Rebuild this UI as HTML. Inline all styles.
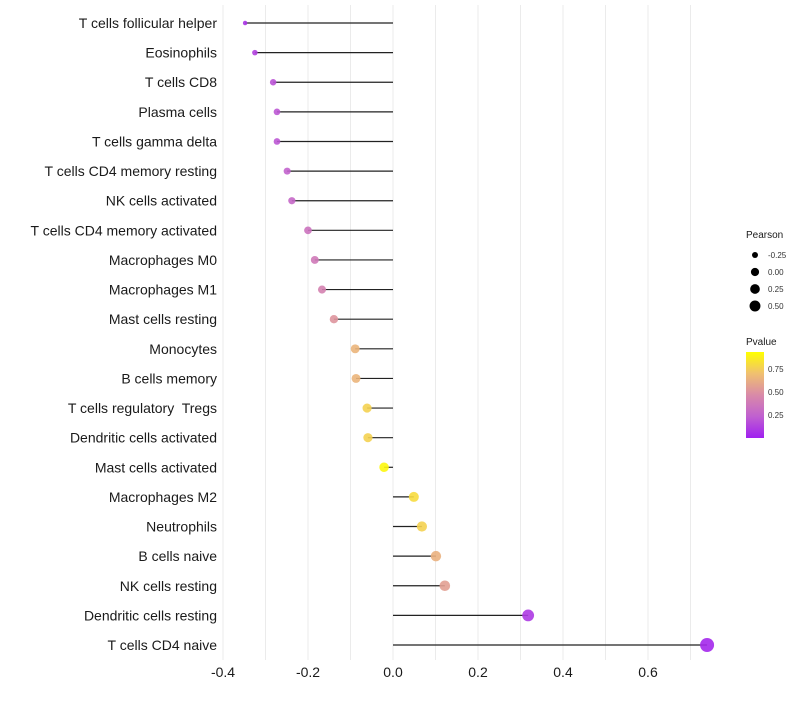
<!DOCTYPE html>
<html><head><meta charset="utf-8"><style>
body{margin:0;background:#fff;font-family:"Liberation Sans",sans-serif}
svg text{font-family:"Liberation Sans",sans-serif;white-space:pre}
</style></head><body>
<svg id="chart" width="800" height="700"></svg>
<script>
const categories=["T cells follicular helper","Eosinophils","T cells CD8","Plasma cells","T cells gamma delta","T cells CD4 memory resting","NK cells activated","T cells CD4 memory activated","Macrophages M0","Macrophages M1","Mast cells resting","Monocytes","B cells memory","T cells regulatory  Tregs","Dendritic cells activated","Mast cells activated","Macrophages M2","Neutrophils","B cells naive","NK cells resting","Dendritic cells resting","T cells CD4 naive"];
const pearson=[-0.348,-0.325,-0.282,-0.273,-0.273,-0.249,-0.238,-0.2,-0.184,-0.167,-0.139,-0.089,-0.087,-0.061,-0.059,-0.021,0.049,0.068,0.101,0.122,0.318,0.739];
const pvalue=[0.08,0.13,0.2,0.22,0.22,0.27,0.3,0.36,0.4,0.45,0.55,0.7,0.7,0.82,0.82,0.97,0.86,0.82,0.68,0.6,0.1,0.03];
const xTicks=[-0.4,-0.2,0.0,0.2,0.4,0.6];
const xTickLabels=["-0.4","-0.2","0.0","0.2","0.4","0.6"];
const sizeLegend=[-0.25,0,0.25,0.5];
const colorLegend=[0.25,0.5,0.75];

const NS="http://www.w3.org/2000/svg";
const svg=document.getElementById('chart');
function mk(t,a,p){const e=document.createElementNS(NS,t);for(const k in a)e.setAttribute(k,a[k]);(p||svg).appendChild(e);return e;}
const x=v=>393+v*425;
const y=i=>23+i*(622/21);
const r=v=>2+5*Math.sqrt(Math.max(0,(v+0.35)/1.09));
const stops=[[0,[160,32,240]],[0.25,[192,96,208]],[0.5,[217,138,168]],[0.75,[240,192,112]],[1,[255,255,0]]];
function col(p){for(let i=1;i<stops.length;i++){if(p<=stops[i][0]){const a=stops[i-1],b=stops[i],t=(p-a[0])/(b[0]-a[0]);return 'rgb('+a[1].map((c,j)=>Math.round(c+(b[1][j]-c)*t)).join(',')+')';}}return 'rgb(255,255,0)';}
// grid
for(let k=-4;k<=7;k++){const g=k/10;const gl=mk('line',{x1:x(g),x2:x(g),y1:5,y2:660,stroke:'#ebebeb','stroke-width':1});

}
categories.forEach((c,i)=>{
 const t=mk('text',{x:217,y:y(i)+5,'text-anchor':'end','font-size':14,fill:'#1a1a1a'});t.textContent=c;
 
 
 const l=mk('line',{x1:x(0),x2:x(pearson[i]),y1:y(i),y2:y(i),stroke:'#222','stroke-width':1.2});
 
 
 const p=mk('circle',{cx:x(pearson[i]),cy:y(i),r:r(pearson[i]),fill:col(pvalue[i]),opacity:0.9});
 
 
});
xTicks.forEach((v,i)=>{const t=mk('text',{x:x(v),y:677,'text-anchor':'middle','font-size':14,fill:'#1a1a1a'});t.textContent=xTickLabels[i];

});
// legends
const lt=mk('text',{x:746,y:238,'font-size':10,fill:'#1a1a1a'});lt.textContent='Pearson';


sizeLegend.forEach((v,i)=>{const cy=255+i*17;const c=mk('circle',{cx:755,cy:cy,r:r(v)*0.85,fill:'#000'});


const t=mk('text',{x:768,y:cy+3,'font-size':8,fill:'#333'});t.textContent=v.toFixed(2);

});
const ct=mk('text',{x:746,y:345,'font-size':10,fill:'#1a1a1a'});ct.textContent='Pvalue';


const defs=mk('defs',{});const gr=mk('linearGradient',{id:'pg',x1:0,y1:1,x2:0,y2:0},defs);
stops.forEach(s=>mk('stop',{offset:s[0],'stop-color':'rgb('+s[1].join(',')+')'},gr));
const cb=mk('rect',{x:746,y:352,width:18,height:86,fill:'url(#pg)'});


const cy0=438,per=92;
colorLegend.forEach(v=>{const yy=cy0-v*per;const t=mk('text',{x:768,y:yy+3,'font-size':8,fill:'#333'});t.textContent=v.toFixed(2);

});
</script>
</body></html>
